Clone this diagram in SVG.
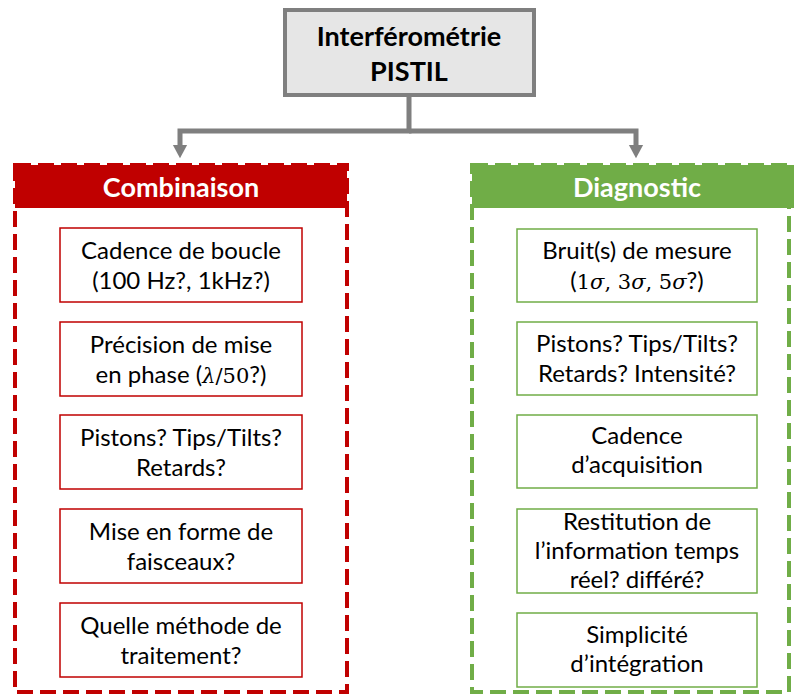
<svg xmlns="http://www.w3.org/2000/svg" width="794" height="697" viewBox="0 0 794 697">
<defs>
<style>
text{font-family:"Lato","Open Sans","Liberation Sans",sans-serif;font-size:24px;fill:#000;text-anchor:middle}
.title{font-weight:bold;font-size:27px}
.hdr{font-weight:bold;font-size:27px;fill:#fff}
.m{font-family:"DejaVu Serif","Liberation Serif",serif;font-size:21px}
.mi{font-family:"DejaVu Serif","Liberation Serif",serif;font-style:italic;font-size:21px}
.rbox{fill:#fff;stroke:#c00000;stroke-width:1.5}
.gbox{fill:#fff;stroke:#70ad47;stroke-width:1.5}
.conn{fill:none;stroke:#7f7f7f;stroke-width:5}
</style>
<marker id="ah" markerUnits="userSpaceOnUse" markerWidth="18" markerHeight="16" refX="8" refY="0" orient="auto" viewBox="-1 -9 18 18">
<polygon points="0,-8 15,0 0,8" fill="#7f7f7f"/>
</marker>
</defs>
<rect width="794" height="697" fill="#fff"/>

<g id="connectors">
<path class="conn" d="M409,97 V131 H180 V152" marker-end="url(#ah)"/>
<path class="conn" d="M409,131 H636 V152" marker-end="url(#ah)"/>
</g>

<g id="root">
<rect x="285" y="10" width="249" height="85" fill="#e6e6e6" stroke="#7f7f7f" stroke-width="4"/>
<text class="title" x="409" y="46">Interférométrie</text>
<text class="title" x="409" y="81">PISTIL</text>
</g>

<g id="combinaison">
<rect x="15" y="165" width="332" height="43" fill="#c00000"/>
<rect x="15" y="165" width="332" height="527" fill="none" stroke="#c00000" stroke-width="4" stroke-dasharray="16 7"/>
<text class="hdr" x="181" y="197">Combinaison</text>
</g>

<g id="c1"><rect class="rbox" x="60" y="228" width="242" height="74"/>
<text x="181" y="259">Cadence de boucle</text><text x="181" y="289">(100 Hz?, 1kHz?)</text></g>
<g id="c2"><rect class="rbox" x="60" y="322" width="242" height="74"/>
<text x="181" y="353">Précision de mise</text><text x="181" y="383">en phase (<tspan class="mi">λ</tspan><tspan class="m">/50</tspan>?)</text></g>
<g id="c3"><rect class="rbox" x="60" y="415" width="242" height="74"/>
<text x="181" y="446">Pistons? Tips/Tilts?</text><text x="181" y="476">Retards?</text></g>
<g id="c4"><rect class="rbox" x="60" y="509" width="242" height="74"/>
<text x="181" y="540">Mise en forme de</text><text x="181" y="570">faisceaux?</text></g>
<g id="c5"><rect class="rbox" x="60" y="603" width="242" height="74"/>
<text x="181" y="634">Quelle méthode de</text><text x="181" y="664">traitement?</text></g>

<g id="diagnostic">
<rect x="472" y="165" width="322" height="43" fill="#70ad47"/>
<rect x="472" y="165" width="317" height="527" fill="none" stroke="#70ad47" stroke-width="4" stroke-dasharray="16 7"/>
<text class="hdr" x="637" y="197">Diagnostic</text>
</g>

<g id="d1"><rect class="gbox" x="517" y="229" width="240" height="73"/>
<text x="637" y="259">Bruit(s) de mesure</text><text x="637" y="289">(<tspan class="m">1</tspan><tspan class="mi">σ</tspan><tspan class="m">, 3</tspan><tspan class="mi">σ</tspan><tspan class="m">, 5</tspan><tspan class="mi">σ</tspan>?)</text></g>
<g id="d2"><rect class="gbox" x="517" y="322" width="240" height="73"/>
<text x="637" y="352">Pistons? Tips/Tilts?</text><text x="637" y="382">Retards? Intensité?</text></g>
<g id="d3"><rect class="gbox" x="517" y="415" width="240" height="73"/>
<text x="637" y="444">Cadence</text><text x="637" y="473">d’acquisition</text></g>
<g id="d4"><rect class="gbox" x="517" y="509" width="240" height="84"/>
<text x="637" y="530">Restitution de</text><text x="637" y="559">l’information temps</text><text x="637" y="588">réel? différé?</text></g>
<g id="d5"><rect class="gbox" x="517" y="613" width="240" height="74"/>
<text x="637" y="643">Simplicité</text><text x="637" y="672">d’intégration</text></g>
</svg>
